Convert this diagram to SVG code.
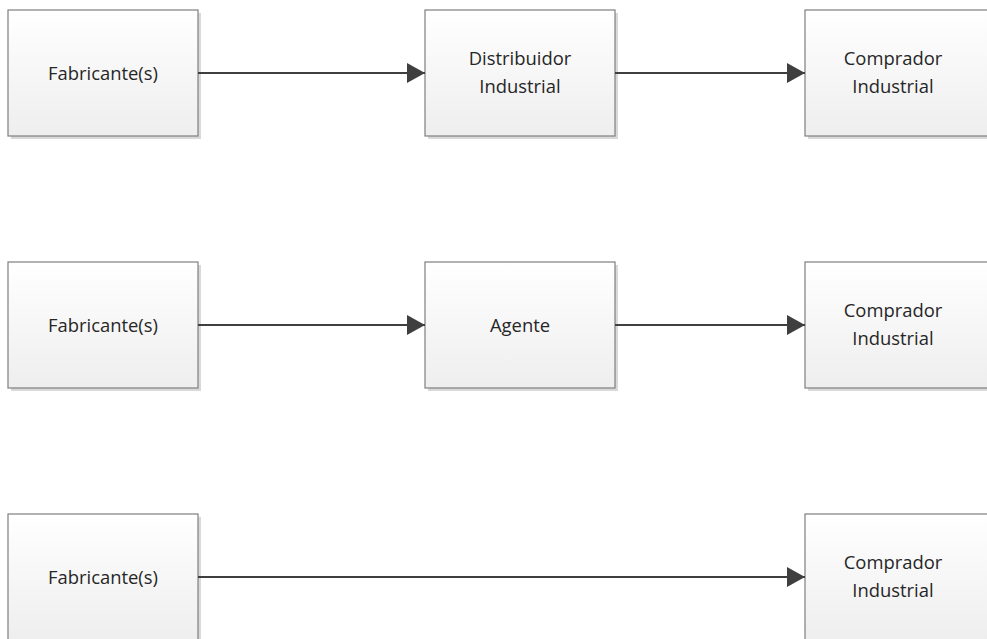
<svg xmlns="http://www.w3.org/2000/svg" width="987" height="639" viewBox="0 0 987 639">
  <defs>
    <linearGradient id="boxFill" x1="0" y1="0" x2="0" y2="1">
      <stop offset="0" stop-color="#ffffff"/>
      <stop offset="1" stop-color="#eeeeee"/>
    </linearGradient>
    <marker id="arrow" viewBox="0 0 18 20" refX="18" refY="10" markerWidth="18" markerHeight="20" markerUnits="userSpaceOnUse" orient="auto">
      <path d="M0,0 L18,10 L0,20 Z" fill="#3f3f3f"/>
    </marker>
  </defs>
  <style>
    .shadow { fill: #d9d9d9; }
    .box { fill: url(#boxFill); stroke: #7f7f7f; stroke-width: 1.2; }
    .label { font-family: "Open Sans", "Liberation Sans", sans-serif; font-size: 18.4px; fill: #262626; text-anchor: middle; }
    .link { stroke: #3f3f3f; stroke-width: 2.2; fill: none; marker-end: url(#arrow); }
  </style>
  <rect width="987" height="639" fill="#ffffff"/>

  <!-- Row 1 -->
  <g id="fabricante1">
    <rect class="shadow" x="11" y="13" width="190" height="126"/>
    <rect class="box" x="8" y="10" width="190" height="126"/>
    <text class="label" x="103" y="80">Fabricante(s)</text>
  </g>
  <g id="distribuidor">
    <rect class="shadow" x="428" y="13" width="190" height="126"/>
    <rect class="box" x="425" y="10" width="190" height="126"/>
    <text class="label" x="520" y="65">Distribuidor</text>
    <text class="label" x="520" y="93">Industrial</text>
  </g>
  <g id="comprador1">
    <rect class="shadow" x="808" y="13" width="190" height="126"/>
    <rect class="box" x="805" y="10" width="190" height="126"/>
    <text class="label" x="893" y="65">Comprador</text>
    <text class="label" x="893" y="93">Industrial</text>
  </g>

  <!-- Row 2 -->
  <g id="fabricante2">
    <rect class="shadow" x="11" y="265" width="190" height="126"/>
    <rect class="box" x="8" y="262" width="190" height="126"/>
    <text class="label" x="103" y="332">Fabricante(s)</text>
  </g>
  <g id="agente">
    <rect class="shadow" x="428" y="265" width="190" height="126"/>
    <rect class="box" x="425" y="262" width="190" height="126"/>
    <text class="label" x="520" y="332">Agente</text>
  </g>
  <g id="comprador2">
    <rect class="shadow" x="808" y="265" width="190" height="126"/>
    <rect class="box" x="805" y="262" width="190" height="126"/>
    <text class="label" x="893" y="317">Comprador</text>
    <text class="label" x="893" y="345">Industrial</text>
  </g>

  <!-- Row 3 -->
  <g id="fabricante3">
    <rect class="shadow" x="11" y="517" width="190" height="126"/>
    <rect class="box" x="8" y="514" width="190" height="126"/>
    <text class="label" x="103" y="584">Fabricante(s)</text>
  </g>
  <g id="comprador3">
    <rect class="shadow" x="808" y="517" width="190" height="126"/>
    <rect class="box" x="805" y="514" width="190" height="126"/>
    <text class="label" x="893" y="569">Comprador</text>
    <text class="label" x="893" y="597">Industrial</text>
  </g>

  <!-- Connectors -->
  <g id="connectors">
    <line class="link" x1="198" y1="73" x2="425" y2="73"/>
    <line class="link" x1="615" y1="73" x2="805" y2="73"/>
    <line class="link" x1="198" y1="325" x2="425" y2="325"/>
    <line class="link" x1="615" y1="325" x2="805" y2="325"/>
    <line class="link" x1="198" y1="577" x2="805" y2="577"/>
  </g>
</svg>
